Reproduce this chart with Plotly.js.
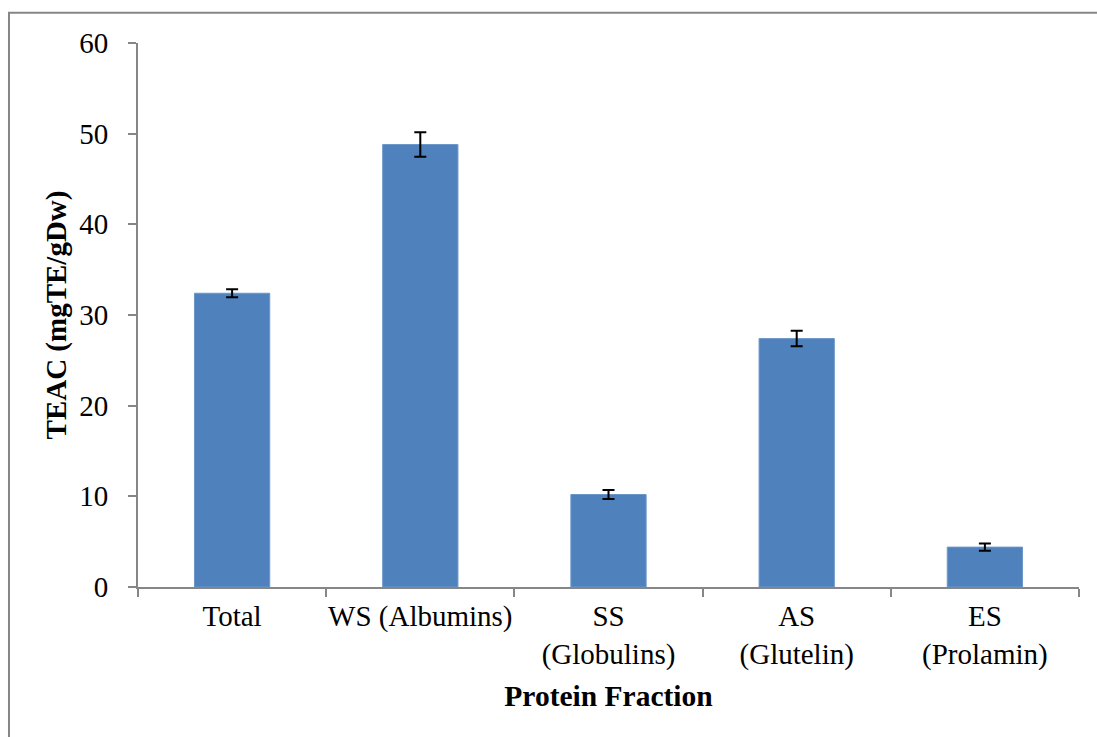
<!DOCTYPE html>
<html>
<head>
<meta charset="utf-8">
<script src="https://cdn.plot.ly/plotly-3.0.1.min.js"></script>
<style>html,body{margin:0;padding:0;background:#fff;overflow:hidden;}#chart{width:1097px;height:737px;}</style>
</head>
<body>
<div id="chart"></div>
<script>
const categories = ["Total", "WS (Albumins)", "SS<br>(Globulins)", "AS<br>(Glutelin)", "ES<br>(Prolamin)"];
const teacValues = [32.4, 48.8, 10.2, 27.4, 4.4];
const teacErrors = [0.45, 1.35, 0.5, 0.85, 0.4];
const yTickValues = [0, 10, 20, 30, 40, 50, 60];

const serif = "Liberation Serif, Times New Roman, serif";
const axisGray = "#868686";

const trace = {
  type: "bar",
  x: categories,
  y: teacValues,
  width: 0.4,
  marker: {color: "#4F81BD", line: {color: "#6d97c9", width: 1}},
  error_y: {type: "data", array: teacErrors, visible: true, color: "#000", thickness: 2, width: 6},
  hoverinfo: "none"
};

const layout = {
  width: 1097,
  height: 737,
  margin: {l: 138, r: 18, t: 42.5, b: 150},
  paper_bgcolor: "#fff",
  plot_bgcolor: "#fff",
  showlegend: false,
  bargap: 0.6,
  font: {family: serif, size: 29, color: "#000"},
  xaxis: {
    type: "category",
    showline: true,
    linecolor: axisGray,
    linewidth: 2,
    ticks: "outside",
    tickson: "boundaries",
    ticklen: 8,
    tickwidth: 2,
    tickcolor: axisGray,
    showgrid: false,
    tickangle: 0,
    ticklabelstandoff: 2,
    tickfont: {family: serif, size: 29, color: "#000"},
    title: {text: "<b>Protein Fraction</b>", font: {family: serif, size: 29.5, color: "#000"}, standoff: 16}
  },
  yaxis: {
    range: [0, 60],
    tickvals: yTickValues,
    showline: true,
    linecolor: axisGray,
    linewidth: 2,
    ticks: "outside",
    ticklen: 8,
    tickwidth: 2,
    tickcolor: axisGray,
    showgrid: false,
    zeroline: false,
    ticklabelstandoff: 14,
    tickfont: {family: serif, size: 29, color: "#000"},
    title: {text: "<b>TEAC (mgTE/gDw)</b>", font: {family: serif, size: 29, color: "#000"}, standoff: 4}
  },
  shapes: [{
    type: "path", xref: "paper", yref: "paper",
    path: "M -0.1371,-0.4 L -0.1371,1.0556 L 1.0191,1.0556",
    line: {color: axisGray, width: 2}, layer: "below"
  }]
};

Plotly.newPlot("chart", [trace], layout, {displayModeBar: false, staticPlot: true});
</script>
</body>
</html>
